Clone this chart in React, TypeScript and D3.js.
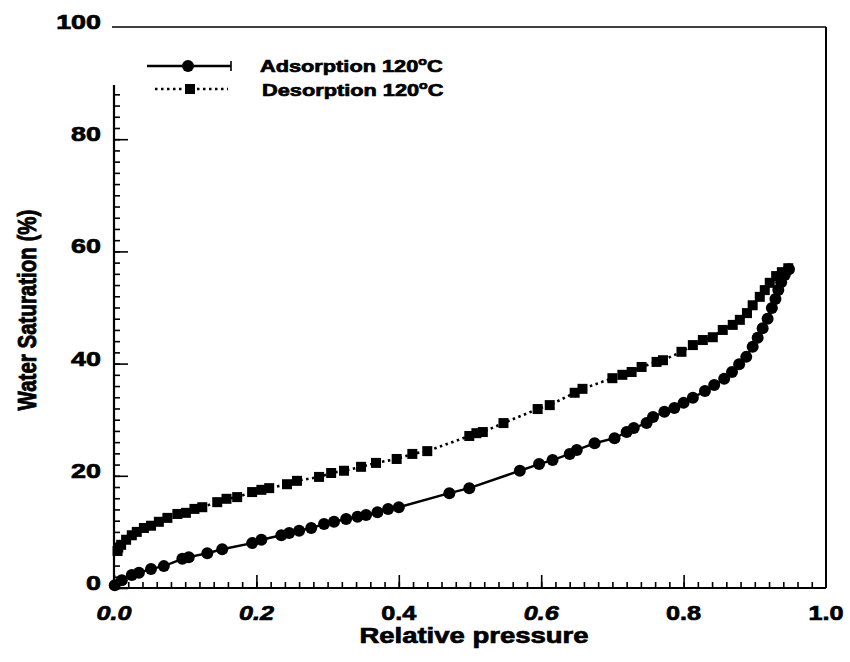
import React, { useEffect, useRef } from 'react';
import * as d3 from 'd3';

// Adsorption branch at 120 °C: relative pressure vs. water saturation (%)
const adsorptionP = [
  0.001, 0.011, 0.025, 0.035, 0.052, 0.070, 0.096, 0.105, 0.131, 0.152,
  0.194, 0.207, 0.235, 0.246, 0.260, 0.277, 0.295, 0.309, 0.326, 0.342,
  0.354, 0.370, 0.385, 0.400, 0.471, 0.499, 0.570, 0.597, 0.616, 0.640,
  0.650, 0.675, 0.703, 0.720, 0.730, 0.748, 0.757, 0.773, 0.787, 0.800,
  0.813, 0.830, 0.843, 0.857, 0.868, 0.878, 0.888, 0.897, 0.904, 0.911,
  0.918, 0.924, 0.929, 0.933, 0.937, 0.942, 0.948,
];
const adsorptionS = [
  0.5, 1.4, 2.3, 2.7, 3.4, 3.9, 5.2, 5.5, 6.2, 6.9,
  8.0, 8.6, 9.4, 9.8, 10.2, 10.7, 11.4, 11.8, 12.3, 12.7,
  13.0, 13.5, 14.1, 14.4, 16.9, 17.8, 20.9, 22.1, 22.8, 23.9,
  24.6, 25.8, 26.7, 27.8, 28.5, 29.4, 30.5, 31.4, 32.1, 33.0,
  33.9, 35.1, 36.2, 37.3, 38.5, 39.9, 41.2, 43.0, 44.6, 46.3,
  48.0, 49.9, 51.5, 53.1, 54.5, 55.8, 56.8,
];

// Desorption branch at 120 °C, from high to low relative pressure
const desorptionP = [
  0.947, 0.938, 0.930, 0.921, 0.914, 0.907, 0.897, 0.889, 0.879, 0.869,
  0.855, 0.841, 0.827, 0.813, 0.797, 0.771, 0.762, 0.741, 0.727, 0.714,
  0.700, 0.658, 0.647, 0.612, 0.595, 0.547, 0.518, 0.509, 0.499, 0.440,
  0.419, 0.397, 0.368, 0.347, 0.323, 0.305, 0.288, 0.257, 0.243, 0.218,
  0.207, 0.194, 0.173, 0.158, 0.145, 0.124, 0.113, 0.101, 0.089, 0.075,
  0.063, 0.052, 0.042, 0.032, 0.025, 0.017, 0.010, 0.006, 0.005,
];
const desorptionS = [
  57.0, 56.3, 55.6, 54.4, 53.1, 51.9, 50.4, 49.0, 47.8, 46.9,
  46.0, 44.7, 44.2, 43.3, 42.1, 40.6, 40.3, 39.4, 38.5, 38.0,
  37.4, 35.5, 34.8, 32.6, 31.9, 29.4, 27.8, 27.6, 27.1, 24.4,
  23.9, 23.0, 22.3, 21.6, 20.9, 20.5, 19.8, 19.1, 18.5, 17.8,
  17.5, 17.1, 16.2, 15.9, 15.3, 14.4, 14.1, 13.4, 13.2, 12.5,
  11.8, 11.1, 10.7, 10.0, 9.4, 8.6, 7.7, 7.2, 6.6,
];

const xTickValues = [0, 0.2, 0.4, 0.6, 0.8, 1.0];
const xTickLabels = ['0.0', '0.2', '0.4', '0.6', '0.8', '1.0'];
const xTickItalic = [true, true, false, true, false, false];
const yTickValues = [0, 20, 40, 60, 80, 100];
const yTickLabels = ['0', '20', '40', '60', '80', '100'];

const W = 850;
const H = 662;
const FONT = "'Liberation Sans', Arial, Helvetica, sans-serif";

const x = d3.scaleLinear().domain([0, 1]).range([114, 826]);
const y = d3.scaleLinear().domain([0, 100]).range([588, 27]);

const adsorption = adsorptionP.map((p, i) => ({ p, s: adsorptionS[i] }));
const desorption = desorptionP.map((p, i) => ({ p, s: desorptionS[i] }));

const line = d3
  .line<{ p: number; s: number }>()
  .x((d) => x(d.p))
  .y((d) => y(d.s));

const SQ = 10; // square marker side
const CR = 6; // circle marker radius

export default function App() {
  const xAxisRef = useRef<SVGGElement>(null);
  const yAxisRef = useRef<SVGGElement>(null);

  useEffect(() => {
    const gx = d3.select(xAxisRef.current);
    gx.selectAll('*').remove();
    const minorX = d3.range(0, 50).map((i) => i / 50);
    gx.append('g').call(
      d3.axisBottom(x).tickValues(minorX).tickSize(-6).tickFormat(() => '')
    );
    gx.append('g').call(
      d3.axisBottom(x).tickValues([0, 0.2, 0.4, 0.6, 0.8]).tickSize(-13).tickFormat(() => '')
    );
    gx.selectAll('.domain').remove();
    gx.selectAll('line').attr('stroke', '#000').attr('stroke-width', 1.6);

    const gy = d3.select(yAxisRef.current);
    gy.selectAll('*').remove();
    const minorY = d3.range(0, 45).map((i) => i * 2);
    gy.append('g').call(
      d3.axisLeft(y).tickValues(minorY).tickSize(-6).tickFormat(() => '')
    );
    gy.append('g').call(
      d3.axisLeft(y).tickValues([0, 20, 40, 60, 80]).tickSize(-14).tickFormat(() => '')
    );
    gy.selectAll('.domain').remove();
    gy.selectAll('line').attr('stroke', '#000').attr('stroke-width', 1.6);
  }, []);

  return (
    <svg
      width={W}
      height={H}
      style={{ position: 'absolute', left: 0, top: 0, background: '#fff' }}
      fontFamily={FONT}
      fontWeight="bold"
    >
      <rect x={0} y={0} width={W} height={H} fill="#fff" />

      {/* frame: top line, right spine, bottom axis, left spine (open near the top) */}
      <line x1={112} y1={y(100)} x2={x(1)} y2={y(100)} stroke="#000" strokeWidth={1.5} />
      <line x1={x(1)} y1={y(100)} x2={x(1)} y2={y(0)} stroke="#000" strokeWidth={2} />
      <line x1={x(0)} y1={y(0)} x2={x(1)} y2={y(0)} stroke="#000" strokeWidth={2.2} />
      <line x1={x(0)} y1={85} x2={x(0)} y2={y(0)} stroke="#000" strokeWidth={2.2} />

      <g ref={xAxisRef} transform={`translate(0,${y(0)})`} />
      <g ref={yAxisRef} transform={`translate(${x(0)},0)`} />

      <g stroke="#000" strokeWidth={0.7}>
        {/* tick labels */}
        {xTickValues.map((v, i) => (
          <text
            key={`xt${i}`}
            transform={`translate(${x(v)},620) scale(1.2,1)`}
            textAnchor="middle"
            fontSize={21}
            fontStyle={xTickItalic[i] ? 'italic' : 'normal'}
          >
            {xTickLabels[i]}
          </text>
        ))}
        {yTickValues.map((v, i) => (
          <text
            key={`yt${i}`}
            transform={`translate(101,${y(v) + 2}) scale(1.28,1)`}
            textAnchor="end"
            fontSize={21}
          >
            {yTickLabels[i]}
          </text>
        ))}

        {/* axis titles */}
        <text
          transform={`translate(474,643) scale(1.25,1)`}
          textAnchor="middle"
          fontSize={22}
        >
          Relative pressure
        </text>
        <text
          transform={`translate(36,310) rotate(-90) scale(1,1.3)`}
          textAnchor="middle"
          fontSize={20.5}
        >
          Water Saturation (%)
        </text>

        {/* legend labels */}
        <text transform="translate(260,72) scale(1.28,1)" fontSize={17}>
          Adsorption 120
          <tspan fontSize={11} dy={-7}>o</tspan>
          <tspan dy={7}>C</tspan>
        </text>
        <text transform="translate(262,96) scale(1.28,1)" fontSize={17}>
          Desorption 120
          <tspan fontSize={11} dy={-7}>o</tspan>
          <tspan dy={7}>C</tspan>
        </text>
      </g>

      {/* data */}
      <path
        d={line(desorption) ?? ''}
        fill="none"
        stroke="#000"
        strokeWidth={2.6}
        strokeDasharray="2.5,3.5"
      />
      <path d={line(adsorption) ?? ''} fill="none" stroke="#000" strokeWidth={2.4} />
      {desorption.map((d, i) => (
        <rect
          key={`d${i}`}
          x={x(d.p) - SQ / 2}
          y={y(d.s) - SQ / 2}
          width={SQ}
          height={SQ}
          fill="#000"
        />
      ))}
      {adsorption.map((d, i) => (
        <circle key={`a${i}`} cx={x(d.p)} cy={y(d.s)} r={CR} fill="#000" />
      ))}

      {/* legend symbols */}
      <line x1={147} y1={66} x2={231} y2={66} stroke="#000" strokeWidth={2.4} />
      <line x1={231} y1={61} x2={231} y2={71} stroke="#000" strokeWidth={1.6} />
      <circle cx={188} cy={66} r={CR} fill="#000" />
      <line
        x1={155}
        y1={89}
        x2={228}
        y2={89}
        stroke="#000"
        strokeWidth={2.6}
        strokeDasharray="2.5,3.5"
      />
      <rect x={190 - SQ / 2} y={89 - SQ / 2} width={SQ} height={SQ} fill="#000" />
    </svg>
  );
}
